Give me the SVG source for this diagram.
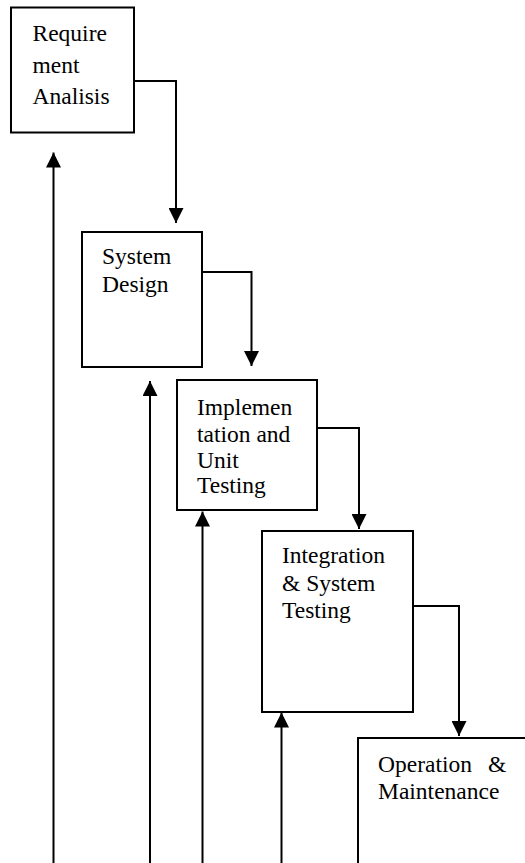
<svg xmlns="http://www.w3.org/2000/svg" width="525" height="863" viewBox="0 0 525 863">
<style>
.box{fill:#fff;stroke:#000;stroke-width:2}
.lbl{font-family:"Liberation Serif","Times New Roman",serif;font-size:23.5px;fill:#000}
.con{fill:none;stroke:#000;stroke-width:2}
</style>
<defs>
<marker id="ah" viewBox="0 0 15 15" refX="15" refY="7.5" markerWidth="15" markerHeight="15" markerUnits="userSpaceOnUse" orient="auto">
<path d="M0,0 L15,7.5 L0,15 z" fill="#000"/>
</marker>
</defs>
<rect width="525" height="863" fill="#fff"/>
<g id="req">
<rect class="box" x="11" y="7.5" width="123" height="125"/>
<text class="lbl" x="32.5" y="40.5">Require</text>
<text class="lbl" x="32.5" y="72.5">ment</text>
<text class="lbl" x="32.5" y="103.5">Analisis</text>
</g>
<g id="design">
<rect class="box" x="82" y="232" width="120" height="135"/>
<text class="lbl" x="102" y="264">System</text>
<text class="lbl" x="102" y="292">Design</text>
</g>
<g id="impl">
<rect class="box" x="177" y="380" width="140" height="130"/>
<text class="lbl" x="197" y="415">Implemen</text>
<text class="lbl" x="197" y="441.5">tation and</text>
<text class="lbl" x="197" y="468">Unit</text>
<text class="lbl" x="197" y="493">Testing</text>
</g>
<g id="integ">
<rect class="box" x="262" y="531" width="151" height="181"/>
<text class="lbl" x="282" y="563">Integration</text>
<text class="lbl" x="282" y="591">&amp; System</text>
<text class="lbl" x="282" y="618">Testing</text>
</g>
<g id="ops">
<rect class="box" x="358" y="738" width="200" height="200"/>
<text class="lbl" x="378" y="772">Operation <tspan x="488">&amp;</tspan></text>
<text class="lbl" x="378" y="798.5">Maintenance</text>
</g>
<g id="connectors">
<path class="con" d="M134,81 H176 V223" marker-end="url(#ah)"/>
<path class="con" d="M202,272 H251.5 V366" marker-end="url(#ah)"/>
<path class="con" d="M317,428 H359 V529" marker-end="url(#ah)"/>
<path class="con" d="M413,606 H459 V736" marker-end="url(#ah)"/>
<path class="con" d="M53.5,863 V152.5" marker-end="url(#ah)"/>
<path class="con" d="M150,863 V381" marker-end="url(#ah)"/>
<path class="con" d="M202.5,863 V511.5" marker-end="url(#ah)"/>
<path class="con" d="M281.5,863 V712.5" marker-end="url(#ah)"/>
</g>
</svg>
